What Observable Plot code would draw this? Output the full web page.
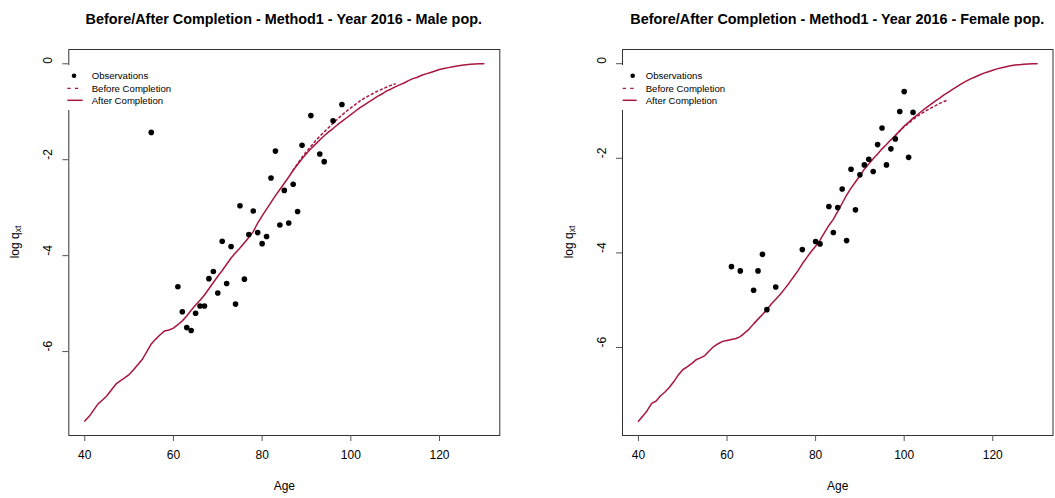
<!DOCTYPE html>
<html><head><meta charset="utf-8">
<script src="https://cdn.jsdelivr.net/npm/d3@7"></script>
<script src="https://cdn.jsdelivr.net/npm/@observablehq/plot@0.6"></script>
<style>
body{margin:0;background:#fff;font-family:"Liberation Sans",Arial,Helvetica,sans-serif;}
#wrap{position:relative;width:1055px;height:498px;overflow:hidden;background:#fff;}
.panel{position:absolute;top:0;}
.title{position:absolute;top:11px;font-weight:bold;font-size:14.4px;white-space:nowrap;transform:translateX(-50%);color:#000;}
.ylab{position:absolute;font-size:12px;white-space:nowrap;transform:translate(-50%,-50%) rotate(-90deg);color:#000;}
.ylab sub{font-size:8.5px;vertical-align:-2px;}
.leg{position:absolute;top:0;left:0;}
</style>
</head><body>
<div id="wrap"></div>
<script>
// ---------------- data ----------------
const titles = ["Before/After Completion - Method1 - Year 2016 - Male pop.",
                "Before/After Completion - Method1 - Year 2016 - Female pop."];
const xTicks = [40, 60, 80, 100, 120];
const yTicks = [0, -2, -4, -6];
const legendLabels = ["Observations", "Before Completion", "After Completion"];

const curveAges = d3.range(40, 131);

const maleAfter = [-7.45,-7.35,-7.22,-7.09,-7.01,-6.92,-6.80,-6.68,-6.61,-6.55,
  -6.48,-6.38,-6.27,-6.16,-6.00,-5.84,-5.74,-5.65,-5.57,-5.55,
  -5.51,-5.44,-5.36,-5.26,-5.14,-5.03,-4.93,-4.82,-4.69,-4.56,
  -4.43,-4.31,-4.18,-4.05,-3.94,-3.84,-3.73,-3.62,-3.50,-3.32,
  -3.17,-3.03,-2.89,-2.75,-2.62,-2.49,-2.36,-2.22,-2.10,-1.98,
  -1.87,-1.77,-1.68,-1.59,-1.50,-1.42,-1.35,-1.27,-1.20,-1.13,
  -1.06,-0.99,-0.92,-0.86,-0.80,-0.74,-0.68,-0.63,-0.57,-0.53,
  -0.48,-0.44,-0.40,-0.35,-0.31,-0.28,-0.24,-0.21,-0.18,-0.15,
  -0.12,-0.10,-0.08,-0.06,-0.045,-0.03,-0.02,-0.01,-0.005,0,0];

const maleBeforeAges = d3.range(87, 111);
const maleBefore = [-2.22,-2.08,-1.95,-1.83,-1.72,-1.61,-1.51,-1.42,-1.33,-1.24,
  -1.15,-1.07,-0.99,-0.92,-0.85,-0.78,-0.72,-0.67,-0.62,-0.57,-0.53,-0.49,-0.45,-0.42];

const maleObsAges = [55,61,62,63,64,65,66,67,68,69,70,71,72,73,74,75,76,77,78,79,80,
  81,82,83,84,85,86,87,88,89,91,93,94,96,98];
const maleObs = [-1.43,-4.65,-5.17,-5.50,-5.56,-5.20,-5.05,-5.05,-4.48,-4.33,-4.78,
  -3.70,-4.58,-3.81,-5.01,-2.96,-4.49,-3.56,-3.07,-3.52,-3.75,-3.60,-2.38,-1.82,
  -3.36,-2.64,-3.32,-2.51,-3.08,-1.70,-1.08,-1.88,-2.04,-1.19,-0.85];

const femaleAfter = [-7.56,-7.45,-7.33,-7.18,-7.13,-7.02,-6.94,-6.84,-6.72,-6.58,
  -6.47,-6.41,-6.34,-6.26,-6.22,-6.17,-6.07,-5.98,-5.92,-5.87,
  -5.85,-5.83,-5.81,-5.77,-5.69,-5.61,-5.50,-5.40,-5.30,-5.20,
  -5.08,-4.98,-4.88,-4.76,-4.64,-4.51,-4.38,-4.23,-4.10,-3.97,
  -3.86,-3.73,-3.57,-3.42,-3.29,-3.12,-2.95,-2.78,-2.63,-2.50,
  -2.37,-2.23,-2.12,-2.01,-1.91,-1.80,-1.71,-1.61,-1.52,-1.42,
  -1.32,-1.24,-1.15,-1.08,-1.00,-0.93,-0.86,-0.79,-0.73,-0.66,
  -0.60,-0.54,-0.48,-0.42,-0.37,-0.32,-0.28,-0.24,-0.20,-0.17,
  -0.14,-0.11,-0.085,-0.065,-0.045,-0.03,-0.02,-0.01,-0.005,0,0];

const femaleBeforeAges = d3.range(98, 111);
const femaleBefore = [-1.52,-1.42,-1.33,-1.26,-1.18,-1.11,-1.05,-0.99,-0.94,-0.89,-0.84,-0.80,-0.76];

const femaleObsAges = [61,63,66,67,68,69,71,77,80,81,83,84,85,86,87,88,89,90,91,92,93,
  94,95,96,97,98,99,100,101,102];
const femaleObs = [-4.29,-4.38,-4.79,-4.38,-4.03,-5.20,-4.72,-3.93,-3.76,-3.81,-3.02,
  -3.57,-3.04,-2.65,-3.74,-2.23,-3.09,-2.35,-2.14,-2.02,-2.28,-1.71,-1.36,-2.14,
  -1.80,-1.59,-1.01,-0.59,-1.98,-1.03];

// ---------------- drawing ----------------
const RED = "#a8163f";
const FONT = '"Liberation Sans", Arial, Helvetica, sans-serif';
const wrap = document.getElementById("wrap");

const toRows = (ages, vals) => ages.map((a, i) => ({age: a, v: vals[i]}));

const panels = [
  {left: 0, width: 527, mL: 68.3, mR: 27.7, yDom: [-7.75, 0.298],
   after: toRows(curveAges, maleAfter), before: toRows(maleBeforeAges, maleBefore),
   obs: toRows(maleObsAges, maleObs), title: titles[0],
   leg: {dot: 74, l0: 67.3, l1: 82.7, tx: 91.7}},
  {left: 527, width: 528, mL: 95, mR: 2.5, yDom: [-7.86, 0.30],
   after: toRows(curveAges, femaleAfter), before: toRows(femaleBeforeAges, femaleBefore),
   obs: toRows(femaleObsAges, femaleObs), title: titles[1],
   leg: {dot: 632.7, l0: 622.7, l1: 636.7, tx: 645.7}}
];

panels.forEach(p => {
  const chart = Plot.plot({
    width: p.width, height: 498,
    marginLeft: p.mL, marginRight: p.mR, marginTop: 49, marginBottom: 63,
    x: {domain: [36.4, 133.6]},
    y: {domain: p.yDom},
    style: {fontFamily: FONT, fontSize: "12px", background: "transparent", color: "#000"},
    marks: [
      Plot.frame({stroke: "#333", strokeWidth: 1}),
      Plot.axisX({ticks: xTicks, tickSize: 6, tickFormat: () => "", label: null, stroke: "#555"}),
      Plot.text(xTicks, {x: d => d, text: d => String(d), frameAnchor: "bottom", dy: 23.7, fontSize: 12, fill: "#000"}),
      Plot.text(["Age"], {frameAnchor: "bottom", dy: 54.2, fontSize: 12, fill: "#000"}),
      Plot.axisY({ticks: yTicks, tickSize: 6, tickFormat: () => "", label: null, stroke: "#555"}),
      Plot.text(yTicks, {y: d => d, text: d => String(d), frameAnchor: "left", dx: -20.6, rotate: -90, fontSize: 12, fill: "#000"}),
      Plot.line(p.before, {x: "age", y: "v", stroke: RED, strokeWidth: 1.5, strokeDasharray: "2,3"}),
      Plot.line(p.after, {x: "age", y: "v", stroke: RED, strokeWidth: 1.5}),
      Plot.dot(p.obs, {x: "age", y: "v", r: 2.8, fill: "#000", stroke: "none"})
    ]
  });
  const holder = document.createElement("div");
  holder.className = "panel";
  holder.style.left = p.left + "px";
  holder.appendChild(chart);
  wrap.appendChild(holder);

  const boxL = p.left + p.mL, boxR = p.left + p.width - p.mR;
  const t = document.createElement("div");
  t.className = "title";
  t.style.left = ((boxL + boxR) / 2) + "px";
  t.textContent = p.title;
  wrap.appendChild(t);

  const yl = document.createElement("div");
  yl.className = "ylab";
  yl.style.left = (boxL - 53) + "px";
  yl.style.top = "242px";
  yl.innerHTML = "log q<sub>xt</sub>";
  wrap.appendChild(yl);
});

// legends (overlay)
const lsvg = d3.select(wrap).append("svg").attr("class", "leg")
  .attr("width", 1055).attr("height", 498).style("position", "absolute").style("left", 0).style("top", 0);
panels.forEach(p => {
  const L = p.leg;
  const g = lsvg.append("g").style("font-family", FONT).style("font-size", "9.6px");
  g.append("rect").attr("x", L.l0 - 2).attr("y", 65).attr("width", L.tx - L.l0 + 90).attr("height", 45).attr("fill", "#fff");
  g.append("circle").attr("cx", L.dot).attr("cy", 75.8).attr("r", 2.3).attr("fill", "#000");
  g.append("line").attr("x1", L.l0).attr("x2", L.l1).attr("y1", 88.3).attr("y2", 88.3)
    .attr("stroke", RED).attr("stroke-width", 1.3).attr("stroke-dasharray", "3.3,4.3");
  g.append("line").attr("x1", L.l0).attr("x2", L.l1).attr("y1", 100.3).attr("y2", 100.3)
    .attr("stroke", RED).attr("stroke-width", 1.5);
  [76, 88.3, 100.3].forEach((y, i) => {
    g.append("text").attr("x", L.tx).attr("y", y).attr("dy", "0.35em").attr("fill", "#000").text(legendLabels[i]);
  });
});
</script>
</body></html>
